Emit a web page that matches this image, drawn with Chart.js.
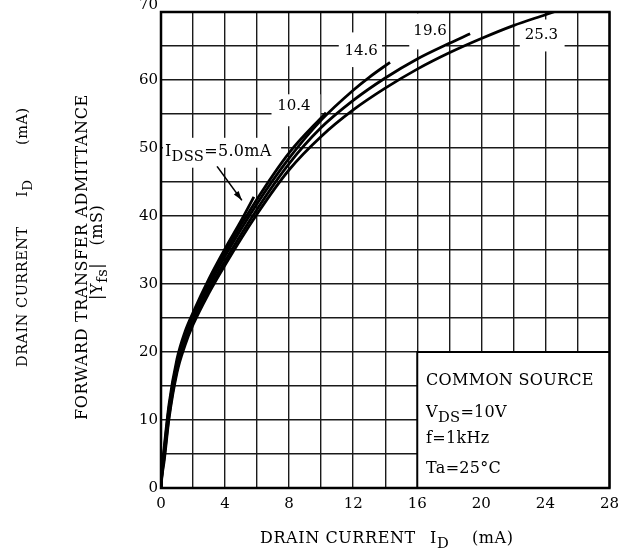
<!DOCTYPE html>
<html>
<head>
<meta charset="utf-8">
<script src="https://cdn.jsdelivr.net/npm/chart.js@4.4.1/dist/chart.umd.min.js"></script>
<style>
html,body{margin:0;padding:0;background:#fff;}
#wrap{width:626px;height:555px;position:relative;}
</style>
</head>
<body>
<div id="wrap"><canvas id="c" width="626" height="555"></canvas></div>
<script>
// ---- data (x = drain current ID mA, y = |Yfs| mS) ----
const curveNames = ['5.0', '10.4', '14.6', '19.6', '25.3'];
const idss50_x  = [0, 0.05, 0.2, 0.5, 1, 1.5, 2, 3, 4, 5, 5.8];
const idss50_y  = [0, 2.3, 6, 12.3, 19, 23, 25.8, 30.8, 35.2, 39.3, 42.8];
const idss104_x = [0, 0.05, 0.2, 0.5, 1, 1.5, 2, 3, 4, 6, 8, 10.3];
const idss104_y = [0, 2.1, 5.5, 11.8, 18.5, 22.5, 25.4, 30.3, 34.7, 42.5, 49.3, 55.2];
const idss146_x = [0, 0.05, 0.2, 0.5, 1, 1.5, 2, 3, 4, 6, 8, 10, 12, 13, 14.3];
const idss146_y = [0, 1.9, 5, 11.2, 18, 22, 25, 29.8, 34.1, 41.8, 48.5, 54.1, 58.5, 60.4, 62.6];
const idss196_x = [0, 0.05, 0.2, 0.5, 1, 1.5, 2, 3, 4, 6, 8, 10, 12, 14, 16, 18, 19.3];
const idss196_y = [0, 1.7, 4.5, 10.6, 17.4, 21.4, 24.4, 29.2, 33.4, 41.0, 47.7, 53.0, 57.0, 60.3, 63.1, 65.4, 66.8];
const idss253_x = [0, 0.05, 0.2, 0.5, 1, 1.5, 2, 3, 4, 6, 8, 10, 12, 14, 16, 18, 20, 22, 24, 24.75];
const idss253_y = [0, 1.5, 4, 10.2, 17.0, 21.0, 24.0, 28.7, 32.8, 40.3, 46.8, 51.7, 55.6, 58.8, 61.6, 64.0, 66.1, 68.0, 69.6, 70.2];

const xTicks = [0, 4, 8, 12, 16, 20, 24, 28];
const yTicks = [0, 10, 20, 30, 40, 50, 60, 70];
const xMin = 0, xMax = 28, yMin = 0, yMax = 70;

// curve labels: [text, x, y] in data units; white boxes [x0, x1, y0, y1]
const curveLabels = [['10.4', 8.3, 56.1], ['14.6', 12.5, 64.2], ['19.6', 16.8, 67.2], ['25.3', 23.75, 66.6]];
const labelBoxes = [[6.9, 9.95, 53.2, 57.9], [11.1, 13.8, 61.9, 67.0], [15.5, 17.8, 64.5, 69.8], [22.4, 25.2, 64.2, 68.9], [0.12, 7.5, 47.1, 51.5]];
const conditions = ['COMMON SOURCE', 'VDS=10V', 'f=1kHz', 'Ta=25°C'];

const FONT = '"DejaVu Serif", "Liberation Serif", serif';

function pts(xs, ys){ return xs.map((v,i)=>({x:v, y:ys[i]})); }
const series = [
  pts(idss50_x, idss50_y), pts(idss104_x, idss104_y), pts(idss146_x, idss146_y),
  pts(idss196_x, idss196_y), pts(idss253_x, idss253_y)
];

function drawRich(ctx, parts, x, y, size, sp){
  let cx = x;
  ctx.letterSpacing = (sp || 0) + 'px';
  parts.forEach(p=>{
    const s = p.sub ? size*0.92 : size;
    ctx.font = s + 'px ' + FONT;
    ctx.fillText(p.t, cx, y + (p.sub ? 5 : 0));
    cx += ctx.measureText(p.t).width;
  });
  ctx.letterSpacing = '0px';
  return cx;
}

const annot = {
  id: 'annot',
  beforeDatasetsDraw(chart){
    const {ctx, scales:{x, y}} = chart;
    ctx.save();
    ctx.fillStyle = '#fff';
    labelBoxes.forEach(b=>{
      const x0 = x.getPixelForValue(b[0]), x1 = x.getPixelForValue(b[1]);
      const y0 = y.getPixelForValue(b[3]), y1 = y.getPixelForValue(b[2]);
      ctx.fillRect(x0, y0, x1-x0, y1-y0);
    });
    // conditions box
    const bx0 = x.getPixelForValue(16), bx1 = x.getPixelForValue(28);
    const by0 = y.getPixelForValue(20), by1 = y.getPixelForValue(0);
    ctx.fillRect(bx0, by0, bx1-bx0, by1-by0);
    ctx.strokeStyle = '#000'; ctx.lineWidth = 2;
    ctx.beginPath(); ctx.moveTo(bx0, by1); ctx.lineTo(bx0, by0); ctx.lineTo(bx1, by0); ctx.stroke();
    ctx.restore();
  },
  afterDatasetsDraw(chart){
    const {ctx, chartArea:a, scales:{x, y}} = chart;
    ctx.save();
    ctx.strokeStyle = '#000'; ctx.lineWidth = 2.5;
    ctx.strokeRect(a.left, a.top, a.right-a.left, a.bottom-a.top);
    ctx.fillStyle = '#000';
    ctx.textBaseline = 'middle'; ctx.textAlign = 'center';
    ctx.font = '15px ' + FONT;
    curveLabels.forEach(l=>{ ctx.fillText(l[0], x.getPixelForValue(l[1]), y.getPixelForValue(l[2])); });
    // top y tick label sits slightly above its grid line in the reference
    ctx.textAlign = 'right';
    ctx.fillText(String(yMax), a.left - 3, y.getPixelForValue(yMax) - 7);
    ctx.textAlign = 'left'; ctx.textBaseline = 'alphabetic';
    // IDSS label
    drawRich(ctx, [{t:'I'},{t:'DSS',sub:true},{t:'=5.0mA'}], x.getPixelForValue(0.25), y.getPixelForValue(48.8), 16, 0.3);
    // arrow
    const ax0 = x.getPixelForValue(3.5), ay0 = y.getPixelForValue(47.3);
    const ax1 = x.getPixelForValue(5.05), ay1 = y.getPixelForValue(42.3);
    ctx.lineWidth = 1.6;
    ctx.beginPath(); ctx.moveTo(ax0, ay0); ctx.lineTo(ax1, ay1); ctx.stroke();
    const ang = Math.atan2(ay1-ay0, ax1-ax0);
    ctx.beginPath();
    ctx.moveTo(ax1, ay1);
    ctx.lineTo(ax1 - 10*Math.cos(ang-0.3), ay1 - 10*Math.sin(ang-0.3));
    ctx.lineTo(ax1 - 10*Math.cos(ang+0.3), ay1 - 10*Math.sin(ang+0.3));
    ctx.closePath(); ctx.fill();
    // conditions text
    const tx = x.getPixelForValue(16.55);
    drawRich(ctx, [{t:conditions[0]}], tx, y.getPixelForValue(15.2), 16, 0.3);
    drawRich(ctx, [{t:'V'},{t:'DS',sub:true},{t:'=10V'}], tx, y.getPixelForValue(10.5), 16, 0.3);
    drawRich(ctx, [{t:conditions[2]}], tx, y.getPixelForValue(6.6), 16, 0.3);
    drawRich(ctx, [{t:conditions[3]}], tx, y.getPixelForValue(2.2), 16, 0.3);
    ctx.restore();
  },
  afterDraw(chart){
    const {ctx} = chart;
    ctx.save();
    ctx.fillStyle = '#000';
    ctx.textBaseline = 'alphabetic'; ctx.textAlign = 'left';
    // x axis title
    drawRich(ctx, [{t:'DRAIN CURRENT'}], 260, 543, 16, 0.6);
    drawRich(ctx, [{t:'I'},{t:'D',sub:true}], 430, 543, 16, 0.6);
    drawRich(ctx, [{t:'(mA)'}], 472, 543, 16, 0.6);
    // partially visible title at top
    drawRich(ctx, [{t:'|Y'},{t:'fs',sub:true},{t:'|  —  I'},{t:'D',sub:true}], 331, -5, 15);
    // y axis titles (rotated)
    ctx.save();
    ctx.translate(27, 367); ctx.rotate(-Math.PI/2);
    drawRich(ctx, [{t:'DRAIN CURRENT'}], 0, 0, 14.5, 0.5);
    drawRich(ctx, [{t:'I'},{t:'D',sub:true}], 170, 0, 14.5, 0.5);
    drawRich(ctx, [{t:'(mA)'}], 222, 0, 14.5, 0.5);
    ctx.restore();
    ctx.save();
    ctx.translate(87, 420); ctx.rotate(-Math.PI/2);
    drawRich(ctx, [{t:'FORWARD TRANSFER ADMITTANCE'}], 0, 0, 16, 0.6);
    ctx.restore();
    ctx.save();
    ctx.translate(102, 300); ctx.rotate(-Math.PI/2);
    drawRich(ctx, [{t:'|Y'},{t:'fs',sub:true},{t:'|   (mS)'}], 0, 0, 16, 0.6);
    ctx.restore();
    ctx.restore();
  }
};

new Chart(document.getElementById('c'), {
  type: 'line',
  data: {
    datasets: series.map((s,i)=>({
      label: 'IDSS=' + curveNames[i] + 'mA',
      data: s,
      borderColor: '#000',
      borderWidth: 2.8,
      pointRadius: 0,
      fill: false,
      cubicInterpolationMode: 'monotone',
      clip: 0
    }))
  },
  options: {
    responsive: false,
    animation: false,
    devicePixelRatio: 1,
    layout: { padding: { left: 0, right: 11, top: 12, bottom: 0 } },
    plugins: { legend: { display: false }, tooltip: { enabled: false } },
    scales: {
      x: {
        type: 'linear', min: xMin, max: xMax,
        afterFit(s){ s.height = 67; },
        afterBuildTicks(s){ s.ticks = []; for(let v=xMin; v<=xMax; v+=2) s.ticks.push({value:v}); },
        ticks: {
          color: '#000', padding: 7, maxRotation: 0, autoSkip: false,
          font: { family: FONT, size: 15 },
          callback: (v)=> xTicks.includes(v) ? String(v) : ''
        },
        grid: { color: '#1a1a1a', lineWidth: 1.4, drawTicks: false },
        border: { display: false }
      },
      y: {
        type: 'linear', min: yMin, max: yMax,
        afterFit(s){ s.width = 161; },
        afterBuildTicks(s){ s.ticks = []; for(let v=yMin; v<=yMax; v+=5) s.ticks.push({value:v}); },
        ticks: {
          color: '#000', padding: 3, autoSkip: false,
          font: { family: FONT, size: 15 },
          callback: (v)=> (yTicks.includes(v) && v !== yMax) ? String(v) : ''
        },
        grid: { color: '#1a1a1a', lineWidth: 1.4, drawTicks: false },
        border: { display: false }
      }
    }
  },
  plugins: [annot]
});
</script>
</body>
</html>
